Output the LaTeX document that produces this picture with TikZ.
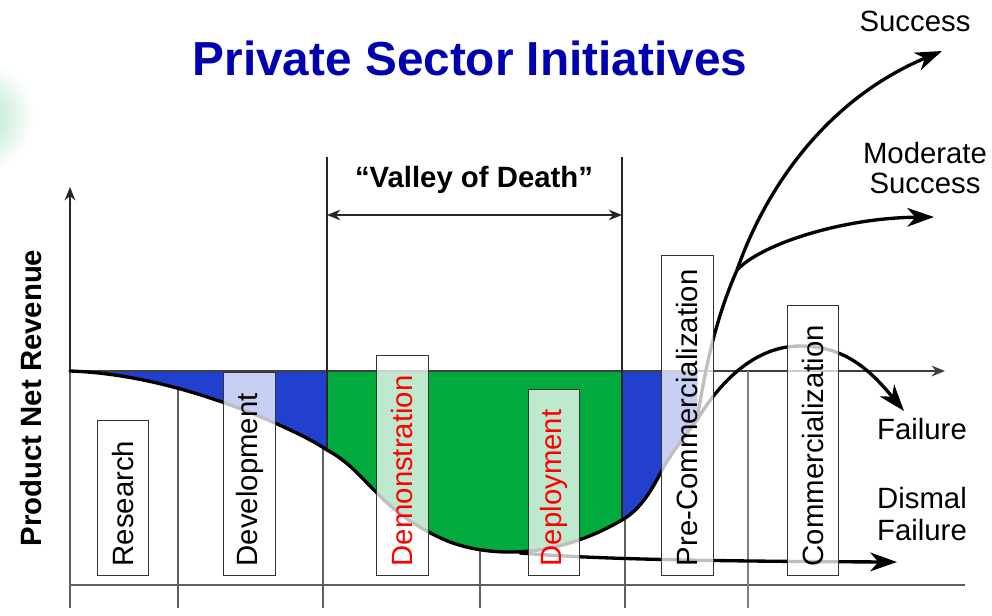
\documentclass[tikz,border=0pt]{standalone}
\usepackage{fontspec}
\setmainfont{Liberation Sans}
\usetikzlibrary{arrows.meta}
\definecolor{blueA}{RGB}{32,64,205}
\definecolor{greenA}{RGB}{0,170,60}
\definecolor{titleblue}{RGB}{0,0,175}
\definecolor{grayline}{RGB}{95,95,95}
\definecolor{glow}{RGB}{175,228,195}
\tikzset{
 phase/.style={draw=black!80,line width=0.7pt,fill=white,fill opacity=.75,text opacity=1,rotate=90,anchor=west,
   minimum height=38.5pt,inner ysep=0pt,inner xsep=7pt,text width=#1,align=left,font=\fontsize{22}{22}\selectfont},
 lbl/.style={font=\fontsize{22}{23}\selectfont,align=center},
 axisline/.style={grayline,line width=1.3pt},
 curve/.style={black,line width=2.5pt,line cap=round},
 tip/.style={-{Stealth[length=20pt,width=14pt,inset=6pt]}},
 smalltip/.style={-{Stealth[length=10pt,width=8pt]}},
}
\begin{document}
\begin{tikzpicture}[x=0.75pt,y=-0.75pt]
\useasboundingbox (0,0) rectangle (992,615);
\begin{scope}
\clip (0,0) rectangle (992,615);
\shade[inner color=glow,outer color=white] (-20,117) circle (55);
\end{scope}
% fills
\fill[blueA] (70,371) .. controls (130,373) and (200,390) .. (275,423) .. controls (295,432) and (312,440) .. (327,450) -- (327,371) -- cycle;
\fill[greenA] (327,371) -- (327,450) .. controls (350,462) and (365,482) .. (377,493) .. controls (395,512) and (420,530) .. (450,542) .. controls (485,555) and (550,562) .. (622,520) -- (622,371) -- cycle;
\fill[blueA] (622,371) -- (622,520) .. controls (640,510) and (652,490) .. (662,470) .. controls (672,452) and (685,436) .. (697,420) -- (698,371) -- cycle;
% axes
\coordinate (ytop) at (70,187); \coordinate (ybot) at (70,608);
\coordinate (xl) at (70,371); \coordinate (xr) at (945,371);
\coordinate (bl) at (70,585); \coordinate (br) at (965,585);
\draw[axisline,black!85,line width=1.7pt,smalltip] (70,371) -- (ytop);
\draw[axisline] (70,371) -- (ybot);
\draw[axisline,black!75,line width=1.7pt,smalltip] (xl) -- (xr);
\draw[axisline] (bl) -- (br);
\draw[axisline] (178,390) -- (178,608);
\draw[axisline] (323,449) -- (323,608);
\draw[axisline] (480,550) -- (480,608);
\draw[axisline] (625,520) -- (625,608);
\draw[axisline,gray,line width=1.8pt] (748,371) -- (748,608);
\draw[black!85,line width=1.7pt] (327,157) -- (327,450);
\draw[black!85,line width=1.7pt] (622,157) -- (622,520);
\coordinate (va) at (327,215); \coordinate (vb) at (622,215);
\draw[black!85,line width=1pt,{Stealth[length=10pt,width=8pt]}-{Stealth[length=10pt,width=8pt]}] (va) -- (vb);
% curves
\draw[curve] (70,371) .. controls (130,373) and (200,390) .. (275,423) .. controls (295,432) and (312,440) .. (327,450) .. controls (350,462) and (365,482) .. (377,493) .. controls (395,512) and (420,530) .. (450,542) .. controls (485,555) and (550,562) .. (622,520) .. controls (640,510) and (652,490) .. (662,470) .. controls (672,452) and (685,436) .. (697,420);
\coordinate (fork) at (697,420);
\coordinate (fork2) at (737,270);
\coordinate (ff) at (904,411);
\draw[curve,tip] (fork) .. controls (715,390) and (750,346) .. (800,346) .. controls (845,346) and (870,370) .. (ff);
\coordinate (succ) at (942,51);
\draw[curve,tip] (fork) .. controls (705,370) and (715,320) .. (fork2) .. controls (765,190) and (825,100) .. (succ);
\coordinate (mod) at (934,217);
\draw[curve,tip] (fork2) .. controls (760,245) and (840,218) .. (mod);
\coordinate (ds) at (520,553); \coordinate (dis) at (897,562);
\draw[curve,tip] (ds) .. controls (560,556) and (620,561) .. (dis);
% labels
\node[font=\fontsize{35.8}{36}\selectfont\bfseries,text=titleblue] (title) at (470,58) {Private Sector Initiatives};
\node[font=\fontsize{22}{22}\selectfont\bfseries] (valley) at (474,180) {“Valley of Death”};
\node[font=\fontsize{22}{22}\selectfont\bfseries,rotate=90] (ylab) at (31,398) {Product Net Revenue};
\node[lbl] (lsucc) at (915,21) {Success};
\node[lbl] (lmod) at (925,168) {Moderate\\Success};
\node[lbl] (lfail) at (922,429) {Failure};
\node[lbl,font=\fontsize{22}{24}\selectfont] (ldis) at (922,514) {Dismal\\Failure};
\node[phase=102pt] (research) at (123,576) {Research};
\node[phase=138pt] (development) at (249.5,576) {Development};
\node[phase=151pt] (demo) at (402.5,576) {\textcolor{red}{Demonstration}};
\node[phase=125.5pt] (deploy) at (554,576) {\textcolor{red}{Deployment}};
\node[phase=226pt] (precomm) at (687.5,576) {Pre-Commercialization};
\node[phase=188.5pt] (comm) at (813,576) {Commercialization};
\end{tikzpicture}
\end{document}
